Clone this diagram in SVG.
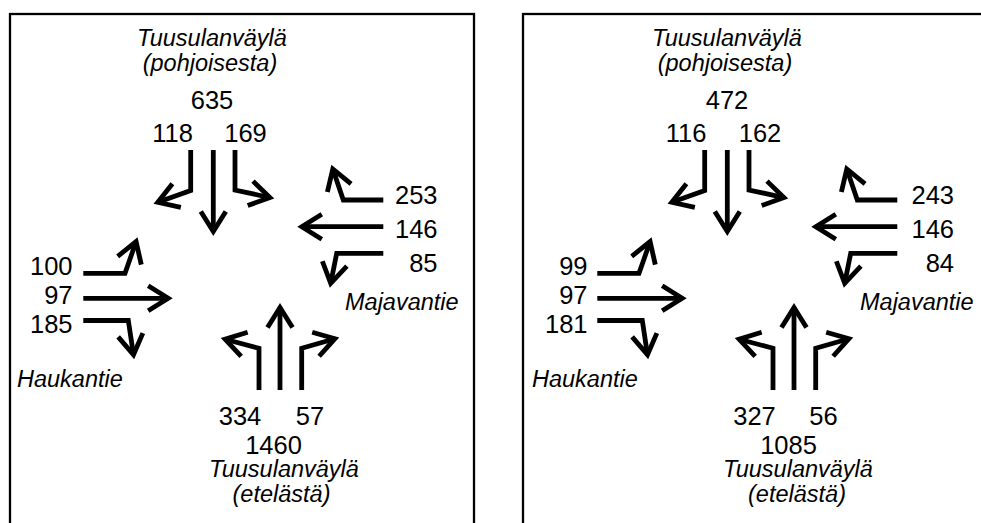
<svg xmlns="http://www.w3.org/2000/svg" xmlns:xlink="http://www.w3.org/1999/xlink" width="981" height="523" viewBox="0 0 981 523">
<style>
.frame{fill:none;stroke:#000;stroke-width:2.3}
.num{font-family:"Liberation Sans",Arial,sans-serif;font-size:25.5px;fill:#000}
.lbl{font-family:"Liberation Sans",Arial,sans-serif;font-size:23.5px;font-style:italic;fill:#000}
.arr{fill:none;stroke:#000;stroke-width:4.8;stroke-linejoin:miter;stroke-linecap:butt;marker-end:url(#ah)}
.mid{text-anchor:middle}
.end{text-anchor:end}
</style>
<defs>
<marker id="ah" markerUnits="userSpaceOnUse" markerWidth="60" markerHeight="60" viewBox="-30 -30 60 60" refX="0" refY="0" orient="auto" overflow="visible">
<path d="M-20,-12.5 L0,0 L-20,12.5" fill="none" stroke="#000" stroke-width="4.8" stroke-linejoin="miter"/>
</marker>
</defs>
<rect width="981" height="523" fill="#fff"/>

<g id="panel-a">
<rect class="frame" x="10" y="14" width="464" height="530"/>
<g id="a-north">
<text class="lbl mid" x="212" y="46">Tuusulanväylä</text>
<text class="lbl mid" x="210" y="71">(pohjoisesta)</text>
<text class="num mid" x="212" y="108.5">635</text>
<text class="num mid" x="172.5" y="141.7">118</text>
<text class="num mid" x="245.5" y="141.7">169</text>
</g>
<g id="a-east">
<text class="num end" x="437.5" y="204">253</text>
<text class="num end" x="437.5" y="237.5">146</text>
<text class="num end" x="437.5" y="271.5">85</text>
<text class="lbl" x="345" y="310">Majavantie</text>
</g>
<g id="a-west">
<text class="num end" x="72.5" y="274.5">100</text>
<text class="num end" x="72.5" y="303.5">97</text>
<text class="num end" x="72.5" y="333">185</text>
<text class="lbl" x="17" y="386.5">Haukantie</text>
</g>
<g id="a-south">
<text class="num mid" x="240" y="424.5">334</text>
<text class="num mid" x="310" y="424.5">57</text>
<text class="num mid" x="273.5" y="453.5">1460</text>
<text class="lbl mid" x="284" y="477">Tuusulanväylä</text>
<text class="lbl mid" x="281.5" y="502">(etelästä)</text>
</g>
<g id="connectors-a">
<path class="arr" d="M190.7,150 V190.5 L157.8,202.3"/>
<path class="arr" d="M213.3,150 V231.5"/>
<path class="arr" d="M235,150 V190 L269.9,197.6"/>
<path class="arr" d="M383.3,200 H343.3 L332.8,169"/>
<path class="arr" d="M383.3,226.7 H301.8"/>
<path class="arr" d="M383.3,253.3 H336.7 L330.7,283.3"/>
<path class="arr" d="M83.3,273.3 H125 L136.1,241.6"/>
<path class="arr" d="M83.3,298.3 H168.2"/>
<path class="arr" d="M83.3,320.5 H128.3 L133.5,354.8"/>
<path class="arr" d="M259,390 V348.3 L225.1,339.2"/>
<path class="arr" d="M280,390 V307.5"/>
<path class="arr" d="M301.7,390 V348.3 L334.9,338.7"/>
</g>
</g>

<g id="panel-b">
<rect class="frame" x="523" y="14" width="480" height="530"/>
<g id="b-north">
<text class="lbl mid" x="727" y="46">Tuusulanväylä</text>
<text class="lbl mid" x="725" y="71">(pohjoisesta)</text>
<text class="num mid" x="727" y="108.5">472</text>
<text class="num mid" x="686" y="141.7">116</text>
<text class="num mid" x="760" y="141.7">162</text>
</g>
<g id="b-east">
<text class="num end" x="954" y="204">243</text>
<text class="num end" x="954" y="237.5">146</text>
<text class="num end" x="954" y="271.5">84</text>
<text class="lbl" x="860" y="310">Majavantie</text>
</g>
<g id="b-west">
<text class="num end" x="587.5" y="274.5">99</text>
<text class="num end" x="587.5" y="303.5">97</text>
<text class="num end" x="587.5" y="333">181</text>
<text class="lbl" x="532" y="386.5">Haukantie</text>
</g>
<g id="b-south">
<text class="num mid" x="754.5" y="424.5">327</text>
<text class="num mid" x="823.5" y="424.5">56</text>
<text class="num mid" x="788.5" y="453.5">1085</text>
<text class="lbl mid" x="798" y="477">Tuusulanväylä</text>
<text class="lbl mid" x="797" y="502">(etelästä)</text>
</g>
<g id="connectors-b">
<use xlink:href="#connectors-a" href="#connectors-a" x="514" y="0"/>
</g>
</g>
</svg>
